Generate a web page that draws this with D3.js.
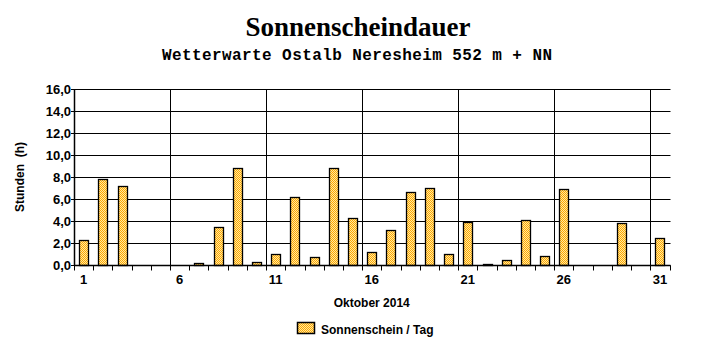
<!DOCTYPE html>
<html><head><meta charset="utf-8">
<script src="https://cdn.jsdelivr.net/npm/d3@7"></script>
<style>body{margin:0;background:#fff;}svg{display:block;}</style>
</head><body>
<svg id="c" width="715" height="352"></svg>
<script>
const days = d3.range(1, 32);
const sunshine = [2.3,7.8,7.2,0,0,0,0.2,3.5,8.8,0.3,1.0,6.2,0.7,8.8,4.3,1.2,3.2,6.6,7.0,1.0,3.9,0.1,0.5,4.1,0.8,6.9,0,0,3.8,0,2.5];
const yTicks = [0,2,4,6,8,10,12,14,16];
const xLabelDays = [1,6,11,16,21,26,31];
const title = "Sonnenscheindauer";
const subtitle = "Wetterwarte Ostalb Neresheim 552 m + NN";
const xTitle = "Oktober 2014";
const yTitle = "Stunden  (h)";
const seriesName = "Sonnenschein / Tag";

const svg = d3.select("#c");
const L = 74, R = 669.5, T = 89, B = 265;
const x = d3.scaleBand().domain(days).range([L, R]).padding(0);
const y = d3.scaleLinear().domain([0, 16]).range([B, T]);

const defs = svg.append("defs");
const pat = defs.append("pattern").attr("id","chk").attr("width",2).attr("height",2).attr("patternUnits","userSpaceOnUse");
pat.append("rect").attr("width",2).attr("height",2).attr("fill","#ffe8a0");
pat.append("rect").attr("width",1).attr("height",1).attr("fill","#ffa800");
pat.append("rect").attr("x",1).attr("y",1).attr("width",1).attr("height",1).attr("fill","#ffa800");

// horizontal gridlines
svg.append("g").selectAll("line").data(yTicks).join("line")
  .attr("x1", L).attr("x2", Math.round(R)+0.5)
  .attr("y1", d => Math.round(y(d))+0.5).attr("y2", d => Math.round(y(d))+0.5)
  .attr("stroke","#000").attr("stroke-width",1);
// vertical gridlines at days 6,11,...,31 left band edge
svg.append("g").selectAll("line").data(xLabelDays.slice(1)).join("line")
  .attr("x1", d => Math.round(x(d))+0.5).attr("x2", d => Math.round(x(d))+0.5)
  .attr("y1", T).attr("y2", B+5)
  .attr("stroke","#000");

// bars
const bw = 9;
svg.append("g").selectAll("rect").data(days.filter((d,i)=>sunshine[i]>0)).join("rect")
  .attr("x", d => Math.round(x(d) + x.bandwidth()/2 - bw/2)+0.5)
  .attr("width", bw)
  .attr("y", d => Math.round(y(sunshine[d-1]))+0.5)
  .attr("height", d => Math.max(0, B - Math.round(y(sunshine[d-1]))))
  .attr("fill","url(#chk)").attr("stroke","#000").attr("stroke-width",1.3);

// x axis
const xa = svg.append("g").attr("transform",`translate(0,${B+0.5})`);
xa.append("line").attr("x1",L).attr("x2",Math.round(R)+0.5).attr("stroke","#000").attr("stroke-width",1.5);
xa.selectAll("line.t").data(days.concat([32])).join("line").attr("class","t")
  .attr("x1", d => Math.round(d<=31 ? x(d) : R)+0.5).attr("x2", d => Math.round(d<=31 ? x(d) : R)+0.5)
  .attr("y1",0).attr("y2",5).attr("stroke","#000");
xa.selectAll("text").data(xLabelDays).join("text")
  .attr("x", d => x(d) + x.bandwidth()/2).attr("y", 18)
  .attr("text-anchor","middle").attr("font-family","Liberation Sans, Arial").attr("font-weight","bold").attr("font-size",13)
  .text(d => d);

// y axis
const ya = svg.append("g");
ya.append("line").attr("x1",L+0.5).attr("x2",L+0.5).attr("y1",T).attr("y2",B+1).attr("stroke","#000").attr("stroke-width",1.5);
ya.selectAll("line.t").data(yTicks).join("line").attr("class","t")
  .attr("x1",L-3).attr("x2",L).attr("y1", d=>Math.round(y(d))+0.5).attr("y2", d=>Math.round(y(d))+0.5).attr("stroke","#000");
ya.selectAll("text").data(yTicks).join("text")
  .attr("x", L-3).attr("y", d => y(d)+4.5)
  .attr("text-anchor","end").attr("font-family","Liberation Sans, Arial").attr("font-weight","bold").attr("font-size",13)
  .text(d => d.toFixed(1).replace(".", ","));

// titles
svg.append("text").attr("x",358).attr("y",36).attr("text-anchor","middle")
  .attr("font-family","Liberation Serif, Times New Roman").attr("font-weight","bold").attr("font-size",27).text(title);
svg.append("text").attr("x",357).attr("y",60).attr("text-anchor","middle")
  .attr("font-family","Liberation Mono, Courier New").attr("font-weight","bold").attr("font-size",16)
  .attr("textLength",390).attr("lengthAdjust","spacing").text(subtitle);
svg.append("text").attr("x",(L+R)/2).attr("y",307).attr("text-anchor","middle")
  .attr("font-family","Liberation Sans, Arial").attr("font-weight","bold").attr("font-size",12).text(xTitle);
svg.append("text").attr("transform",`translate(24,${(T+B)/2}) rotate(-90)`).attr("text-anchor","middle")
  .attr("font-family","Liberation Sans, Arial").attr("font-weight","bold").attr("font-size",12).attr("xml:space","preserve").style("white-space","pre").text(yTitle);

// legend
svg.append("rect").attr("x",297.5).attr("y",322.5).attr("width",17).attr("height",11)
  .attr("fill","url(#chk)").attr("stroke","#000").attr("stroke-width",1.5);
svg.append("text").attr("x",321).attr("y",334)
  .attr("font-family","Liberation Sans, Arial").attr("font-weight","bold").attr("font-size",12).text(seriesName);
</script>
</body></html>
